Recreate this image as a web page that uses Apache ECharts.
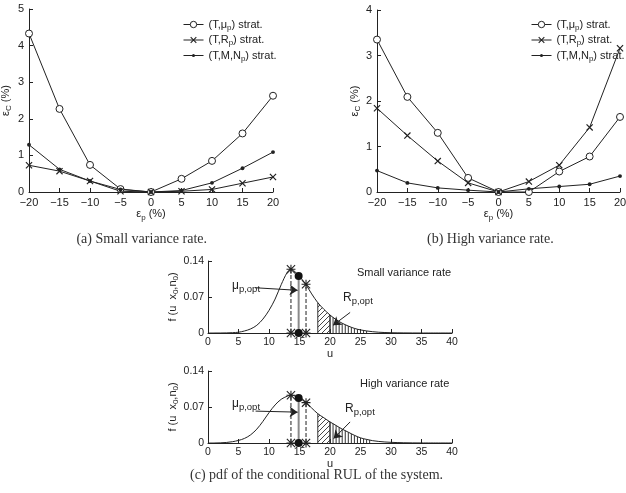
<!DOCTYPE html>
<html><head><meta charset="utf-8">
<script src="https://cdn.jsdelivr.net/npm/echarts@6/dist/echarts.min.js"></script>
<style>html,body{margin:0;padding:0;background:#fff}#c{width:626px;height:493px}</style>
</head><body><div id="c"></div>
<script>
// ---------- data ----------
const epsP = [-20,-15,-10,-5,0,5,10,15,20];
const smallMu = [4.33,2.27,0.74,0.08,0,0.36,0.85,1.60,2.63];
const smallR  = [0.73,0.57,0.30,0.02,0,0.02,0.07,0.24,0.41];
const smallMN = [1.29,0.62,0.30,0.07,0,0.04,0.25,0.65,1.09];
const highMu  = [3.35,2.09,1.30,0.31,0,0.00,0.45,0.78,1.65];
const highR   = [1.84,1.24,0.68,0.20,0,0.23,0.59,1.42,3.16];
const highMN  = [0.47,0.20,0.09,0.04,0,0.07,0.12,0.17,0.35];

const uGrid = [0,1,2,3,4,5,6,7,8,9,10,11,12,13,13.6,14,15,16,17,18,19,20,21,22,23,24,25,26,27,28,29,30,32,35,40];
const pdfSmall = [0,0,0,0.0002,0.0006,0.0015,0.004,0.008,0.015,0.027,0.044,0.066,0.094,0.118,0.124,0.122,0.110,0.095,0.076,0.059,0.046,0.035,0.026,0.019,0.0135,0.009,0.006,0.004,0.0025,0.0015,0.0009,0.0005,0.0002,0,0];
const pdfHigh  = [0,0,0.0003,0.001,0.0025,0.005,0.009,0.016,0.027,0.042,0.059,0.074,0.085,0.091,0.093,0.0925,0.087,0.079,0.068,0.057,0.049,0.041,0.034,0.027,0.021,0.015,0.010,0.007,0.0045,0.003,0.002,0.0013,0.0005,0.0001,0];

const markU    = [13.6, 14.86, 16.07];
const markTopF = [0.124, 0.111, 0.0947];
const markBotF = [0.0928, 0.0876, 0.0785];

const muArrowTop = [[7.7,0.088],[14.7,0.083]];
const rArrowTop  = [[23.3,0.040],[20.5,0.015]];
const muArrowBot = [[7.8,0.062],[14.7,0.060]];
const rArrowBot  = [[23.3,0.041],[20.6,0.0086]];

const hatchTop = [[18,20],[20,26]];
const hatchBot = [[18,20],[20,26.6]];

const seriesNames = ['mu','R','MN'];
const legendLabels = {
  mu: '{a|(T,μ}{s|p}{a|) strat.}',
  R:  '{a|(T,R}{s|p}{a|) strat.}',
  MN: '{a|(T,M,N}{s|p}{a|) strat.}'
};

// ---------- styles ----------
const FONT = 'Liberation Sans, Arial, sans-serif';
const SERIF = 'Liberation Serif, DejaVu Serif, serif';
const INK = '#222';
const CROSS = 'path://M0,1.2L1.2,0L10,8.8L8.8,10ZM8.8,0L10,1.2L1.2,10L0,8.8Z';
const STAR = 'path://M4.4,0H5.6V10H4.4ZM0,4.4H10V5.6H0ZM0.85,0L10,9.15L9.15,10L0,0.85ZM9.15,0L10,0.85L0.85,10L0,9.15Z';
const DOT = 'path://M0,0M10,10M2.6,5A2.4,2.4,0,1,1,7.4,5A2.4,2.4,0,1,1,2.6,5Z';

function minus(v){ const n = Number(v); return n < 0 ? '\u2212' + Math.abs(n) : String(v); }
const richSub = {
  a: {fontSize: 11, fontFamily: FONT, color: INK},
  s: {fontSize: 8, fontFamily: FONT, color: INK, padding: [6,0,0,0]}
};

function xAxisTop(gi){
  return {gridIndex: gi, type:'category', data: epsP.map(String), boundaryGap:false,
    axisLine:{onZero:false, lineStyle:{color:INK}},
    axisTick:{inside:true, length:4, alignWithLabel:true, lineStyle:{color:INK}},
    axisLabel:{color:INK, fontSize:11, fontFamily:FONT, margin:5, formatter:minus, interval:0},
    splitLine:{show:false},
    name:'{a|ε}{s|p}{a| (%)}', nameLocation:'middle', nameGap:12,
    nameTextStyle:{rich:richSub}};
}
function yAxisTop(gi, max, gap){
  return {gridIndex: gi, type:'value', min:0, max:max, interval:1,
    axisLine:{show:true, onZero:false, lineStyle:{color:INK}},
    axisTick:{show:true, inside:true, length:4, lineStyle:{color:INK}},
    axisLabel:{color:INK, fontSize:11, fontFamily:FONT, margin:5, showMinLabel:true, showMaxLabel:true},
    splitLine:{show:false},
    name:'{a|ε}{s|C}{a| (%)}', nameLocation:'middle', nameGap:gap, nameRotate:90,
    nameTextStyle:{rich:richSub}};
}
function xAxisPdf(gi){
  return {gridIndex: gi, type:'value', min:0, max:40, interval:5,
    axisLine:{onZero:false, lineStyle:{color:INK}},
    axisTick:{inside:true, length:4, lineStyle:{color:INK}},
    axisLabel:{color:INK, fontSize:10.5, fontFamily:FONT, margin:4, showMinLabel:true, showMaxLabel:true},
    splitLine:{show:false},
    name:'u', nameLocation:'middle', nameGap:10,
    nameTextStyle:{color:INK, fontSize:11, fontFamily:FONT}};
}
function yAxisPdf(gi){
  return {gridIndex: gi, type:'value', min:0, max:0.14, interval:0.07,
    axisLine:{show:true, onZero:false, lineStyle:{color:INK}},
    axisTick:{show:true, inside:true, length:4, lineStyle:{color:INK}},
    axisLabel:{color:INK, fontSize:10.5, fontFamily:FONT, margin:4, showMinLabel:true, showMaxLabel:true},
    splitLine:{show:false},
    name:'{a|f (u  x}{s|0}{a|,n}{s|0}{a|)}', nameLocation:'middle', nameGap:26, nameRotate:90,
    nameTextStyle:{rich:richSub}};
}

function zip(xs, ys){ return xs.map((x,i)=>[x, ys[i]]); }

function strategySeries(gi, mu, r, mn){
  const base = {type:'line', xAxisIndex:gi, yAxisIndex:gi, lineStyle:{color:INK, width:1}, silent:true};
  return [
    Object.assign({}, base, {name:'mu', data:mu.slice(), symbol:'circle', symbolSize:7,
      itemStyle:{color:'#fff', borderColor:INK, borderWidth:1}}),
    Object.assign({}, base, {name:'R', data:r.slice(), symbol:CROSS, symbolSize:7,
      itemStyle:{color:INK, borderWidth:0}}),
    Object.assign({}, base, {name:'MN', data:mn.slice(), symbol:DOT, symbolSize:8,
      itemStyle:{color:INK, borderWidth:0}})
  ];
}

function fAt(us, fs, u){
  for (let i = 0; i < us.length - 1; i++){
    if (u >= us[i] && u <= us[i+1]){
      const t = (u - us[i]) / (us[i+1] - us[i]);
      return fs[i] + t * (fs[i+1] - fs[i]);
    }
  }
  return 0;
}

function makeDiagPattern(){
  const c = document.createElement('canvas');
  c.width = 5; c.height = 5;
  const g = c.getContext('2d');
  g.strokeStyle = '#333'; g.lineWidth = 0.9;
  g.beginPath();
  g.moveTo(0,5); g.lineTo(5,0);
  g.moveTo(-1,1); g.lineTo(1,-1);
  g.moveTo(4,6); g.lineTo(6,4);
  g.stroke();
  return {image:c, repeat:'repeat'};
}
const diagPattern = makeDiagPattern();

function hatchSeries(gi, fs, regions){
  return {type:'custom', xAxisIndex:gi, yAxisIndex:gi, silent:true, z:1,
    data: regions.map((r, k) => [r[0], 0, r[1], k]),
    renderItem: function(params, api){
      const a = api.value(0), b = api.value(2), kind = api.value(3);
      const children = [];
      if (kind === 0){
        const pts = [api.coord([a,0]), api.coord([a, fAt(uGrid, fs, a)])];
        for (let i = 0; i < uGrid.length; i++) if (uGrid[i] > a && uGrid[i] < b) pts.push(api.coord([uGrid[i], fs[i]]));
        pts.push(api.coord([b, fAt(uGrid, fs, b)]));
        pts.push(api.coord([b, 0]));
        children.push({type:'polygon', shape:{points:pts}, style:{fill:diagPattern}});
        [a, b].forEach(u => {
          const p0 = api.coord([u,0]), p1 = api.coord([u, fAt(uGrid, fs, u)]);
          children.push({type:'line', shape:{x1:p0[0], y1:p0[1], x2:p1[0], y2:p1[1]}, style:{stroke:'#333', lineWidth:1}});
        });
      } else {
        for (let u = a; u <= b + 1e-6; u += 0.5){
          const p0 = api.coord([u,0]), p1 = api.coord([u, fAt(uGrid, fs, u)]);
          children.push({type:'line', shape:{x1:p0[0], y1:p0[1], x2:p1[0], y2:p1[1]}, style:{stroke:'#333', lineWidth:1}});
        }
      }
      return {type:'group', children: children};
    }};
}

function pdfSeries(gi, fs, marks, muArrow, rArrow, regions){
  const out = [];
  out.push(hatchSeries(gi, fs, regions));
  out.push({type:'line', xAxisIndex:gi, yAxisIndex:gi, data:zip(uGrid, fs), smooth:0.35, symbol:'none',
    lineStyle:{color:INK, width:1}, silent:true, z:3,
    markLine:{silent:true, symbol:['none','arrow'], symbolSize:8, label:{show:false},
      lineStyle:{color:INK, width:1, type:'solid'},
      emphasis:{disabled:true},
      data:[[{coord:muArrow[0]},{coord:muArrow[1]}],[{coord:rArrow[0]},{coord:rArrow[1]}]]}});
  markU.forEach((u, k) => {
    const isMid = k === 1;
    out.push({type:'line', xAxisIndex:gi, yAxisIndex:gi, data:[[u,0],[u,marks[k]]], silent:true, z:4,
      symbol: isMid ? 'circle' : STAR, symbolSize: isMid ? 8 : 9,
      itemStyle:{color: isMid ? '#111' : INK},
      lineStyle:{color: isMid ? '#8a8a8a' : INK, width: isMid ? 2 : 1, type: isMid ? 'solid' : 'dashed'}});
  });
  return out;
}

const series = [].concat(
  strategySeries(0, smallMu, smallR, smallMN),
  strategySeries(1, highMu, highR, highMN),
  pdfSeries(2, pdfSmall, markTopF, muArrowTop, rArrowTop, hatchTop),
  pdfSeries(3, pdfHigh, markBotF, muArrowBot, rArrowBot, hatchBot)
);

function legendAt(left){
  return {orient:'vertical', left:left, top:14, itemWidth:20, itemHeight:8, itemGap:3,
    data: seriesNames, selectedMode:false,
    itemStyle:{borderWidth:1}, lineStyle:{width:1},
    formatter: name => legendLabels[name],
    textStyle:{rich:richSub}};
}

function subText(x, y, main, sub){
  return {type:'text', left:x, top:y, silent:true,
    style:{text:'{a|' + main + '}{s|' + sub + '}', rich:{
      a:{fontSize:12, fontFamily:FONT, fill:INK, color:INK},
      s:{fontSize:9.5, fontFamily:FONT, fill:INK, color:INK, padding:[7,0,0,0]}}}};
}

const option = {
  animation:false,
  backgroundColor:'#fff',
  grid:[
    {left:29, top:9, width:244, height:183, outerBoundsMode:'none'},
    {left:377, top:10, width:243, height:182, outerBoundsMode:'none'},
    {left:208, top:261, width:244, height:72, outerBoundsMode:'none'},
    {left:208, top:371, width:244, height:72, outerBoundsMode:'none'}
  ],
  xAxis:[xAxisTop(0), xAxisTop(1), xAxisPdf(2), xAxisPdf(3)],
  yAxis:[yAxisTop(0,5,16), yAxisTop(1,4,13), yAxisPdf(2), yAxisPdf(3)],
  legend:[legendAt(178), legendAt(526)],
  series: series,
  graphic:[
    {type:'text', right:626-207, top:232, silent:true, style:{text:'(a) Small variance rate.', font:'14px ' + SERIF, fill:'#333'}},
    {type:'text', left:427, top:232, silent:true, style:{text:'(b) High variance rate.', font:'14px ' + SERIF, fill:'#333'}},
    {type:'text', left:190, top:468, silent:true, style:{text:'(c) pdf of the conditional RUL of the system.', font:'14px ' + SERIF, fill:'#333'}},
    {type:'text', left:357, top:267, silent:true, style:{text:'Small variance rate', font:'11px ' + FONT, fill:INK}},
    {type:'text', left:360, top:378, silent:true, style:{text:'High variance rate', font:'11px ' + FONT, fill:INK}},
    subText(232, 280, 'μ', 'p,opt'),
    subText(343, 292, 'R', 'p,opt'),
    subText(232, 398, 'μ', 'p,opt'),
    subText(345, 403, 'R', 'p,opt')
  ]
};

const chart = echarts.init(document.getElementById('c'), null, {renderer:'canvas'});
chart.setOption(option);
</script>
</body></html>
